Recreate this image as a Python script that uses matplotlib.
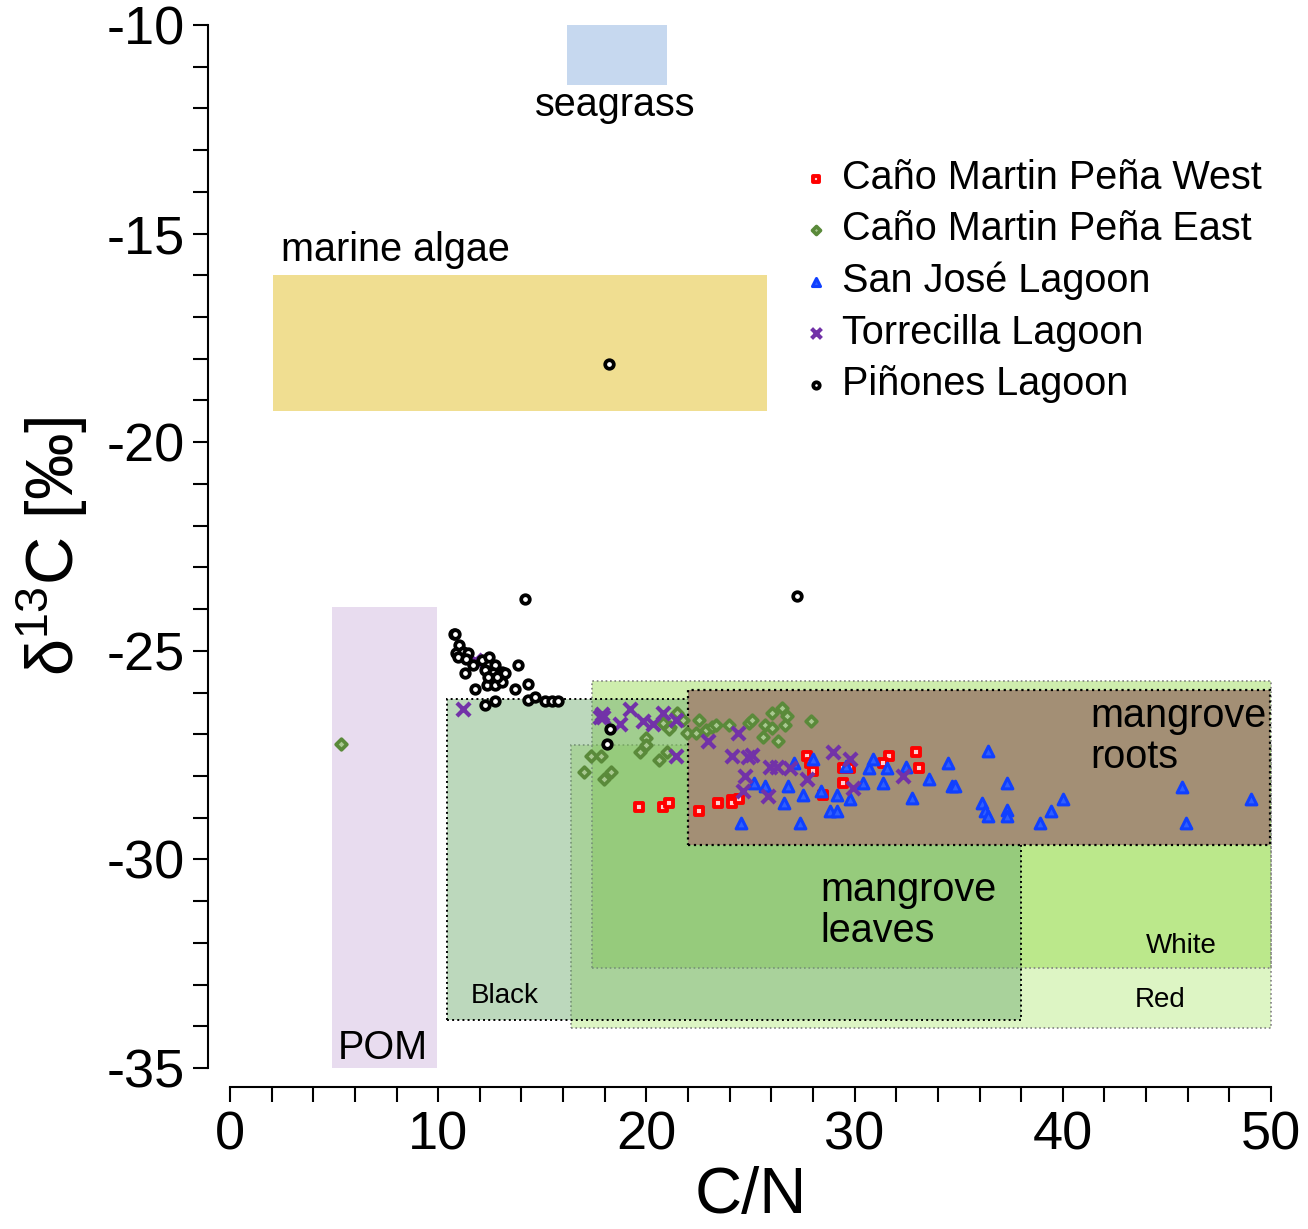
import numpy as np
import matplotlib
matplotlib.use("Agg")
import matplotlib.pyplot as plt
from matplotlib.patches import Rectangle

plt.rcParams['font.family'] = ['Liberation Sans', 'DejaVu Sans']
plt.rcParams['mathtext.fontset'] = 'custom'
plt.rcParams['mathtext.rm'] = 'Liberation Sans'

# --- data (C/N, d13C) ---
west_cn = [19.64, 20.8, 21.09, 22.53, 23.44, 24.11, 24.11, 24.45, 27.71, 27.85, 28.0, 28.48,
           29.44, 29.78, 29.44, 31.65, 31.36, 32.95, 33.09]
west_d13c = [-28.74, -28.74, -28.65, -28.84, -28.65, -28.58, -28.65, -28.55, -27.52, -27.7, -27.88, -28.46,
             -27.81, -27.81, -28.17, -27.52, -27.69, -27.43, -27.81]

east_cn = [5.33, 17.0, 17.34, 17.82, 17.96, 18.3, 19.69, 20.0, 20.0, 20.6, 20.99, 20.8, 21.13,
           21.47, 21.76, 21.95, 22.38, 22.53, 22.86, 23.15, 23.34, 23.97, 24.93, 25.07, 25.6,
           25.7, 26.03, 26.03, 26.51, 26.75, 26.66, 26.32, 27.9, 21.09]
east_d13c = [-27.23, -27.9, -27.52, -27.52, -28.07, -27.9, -27.43, -27.1, -27.25, -27.62, -27.43, -26.73, -26.83,
             -26.49, -26.66, -26.97, -26.97, -26.66, -26.9, -26.83, -26.78, -26.78, -26.73, -26.66, -27.07,
             -26.78, -26.85, -26.49, -26.37, -26.56, -26.78, -27.16, -26.68, -26.87]

sanjose_cn = [24.53, 25.18, 25.68, 26.6, 26.79, 27.08, 27.39, 27.52, 28.0, 28.37, 28.81, 29.14,
              29.14, 29.6, 29.79, 30.39, 30.71, 30.89, 31.35, 31.54, 32.46, 32.77, 33.56, 34.49,
              34.67, 34.82, 36.1, 36.24, 36.42, 36.42, 37.34, 37.34, 37.34, 38.9, 39.42, 40.01,
              45.72, 45.9, 49.03]
sanjose_d13c = [-29.13, -28.16, -28.24, -28.65, -28.24, -27.68, -29.13, -28.45, -27.6, -28.37, -28.85, -28.85,
                -28.45, -27.75, -28.55, -28.16, -27.8, -27.6, -28.16, -27.8, -27.78, -28.53, -28.07, -27.68,
                -28.24, -28.24, -28.65, -28.85, -28.97, -27.4, -28.16, -28.81, -28.97, -29.13, -28.83, -28.55,
                -28.26, -29.13, -28.55]

torre_cn = [11.19, 11.77, 17.77, 17.9, 17.85, 19.2, 18.73, 19.84, 20.32, 20.8, 21.42, 21.42, 24.4,
            22.96, 24.1, 24.88, 25.07, 24.74, 24.64, 25.94, 26.27, 26.9, 27.7, 25.84, 28.96,
            29.78, 29.92, 32.32]
torre_d13c = [-26.39, -25.22, -26.59, -26.59, -26.52, -26.4, -26.75, -26.68, -26.75, -26.49, -26.66, -27.52, -26.97,
              -27.16, -27.52, -27.55, -27.5, -28.0, -28.36, -27.79, -27.79, -27.81, -28.07, -28.48, -27.43,
              -27.6, -28.29, -28.0]

pinones_cn = [18.2, 14.17, 27.23, 18.25, 18.1, 10.76, 10.8, 11.0, 10.85, 11.19, 11.43, 10.95, 11.33,
              11.67, 11.29, 12.1, 12.44, 12.25, 12.73, 12.63, 13.06, 13.21, 13.83, 12.49, 12.34,
              12.73, 13.06, 12.82, 12.39, 11.77, 13.69, 14.31, 12.25, 12.73, 14.31, 14.65, 15.13,
              15.47, 15.75]
pinones_d13c = [-18.13, -23.76, -23.69, -26.87, -27.23, -24.6, -24.6, -24.86, -25.05, -25.03, -25.05, -25.15, -25.2,
                -25.34, -25.53, -25.22, -25.15, -25.46, -25.34, -25.53, -25.51, -25.53, -25.34, -25.7, -25.82,
                -25.82, -25.75, -25.63, -25.63, -25.92, -25.92, -25.8, -26.3, -26.2, -26.18, -26.1, -26.2,
                -26.2, -26.2]

# source boxes: (cn_min, cn_max, d13c_min, d13c_max)
seagrass_box = (16.2, 21.0, -11.45, -10.0)
algae_box = (2.05, 25.8, -19.25, -16.0)
pom_box = (4.9, 9.95, -35.0, -23.95)
red_box = (16.4, 50.0, -34.05, -27.25)
white_box = (17.4, 50.0, -32.6, -25.72)
black_box = (10.4, 38.0, -33.85, -26.15)
roots_box = (22.0, 49.95, -29.65, -25.95)

fig = plt.figure(figsize=(13.08, 12.29), dpi=100)
ax = fig.add_axes([230/1308, 1-1068/1229, (1271-230)/1308, (1068-25)/1229])
ax.set_xlim(0, 50)
ax.set_ylim(-35, -10)


def box(b, **kw):
    r = Rectangle((b[0], b[2]), b[1]-b[0], b[3]-b[2], clip_on=False, **kw)
    ax.add_patch(r)
    return r


box(seagrass_box, facecolor='#c6d8ef', edgecolor='none', zorder=1)
box(algae_box, facecolor='#f0de91', edgecolor='none', zorder=1)
box(pom_box, facecolor='#e8dcef', edgecolor='none', zorder=1)
box(red_box, facecolor=(210/255, 242/255, 176/255, 0.75), edgecolor='#808080', linestyle=':', linewidth=1.2, zorder=2)
box(white_box, facecolor=(140/255, 214/255, 60/255, 0.42), edgecolor='#808080', linestyle=':', linewidth=1.2, zorder=3)
box(black_box, facecolor=(107/255, 169/255, 107/255, 0.45), edgecolor='black', linestyle=':', linewidth=1.4, zorder=4)
box(roots_box, facecolor='#a38f75', edgecolor='black', linestyle=':', linewidth=1.6, zorder=5)

fs = 28.5
ax.text(18.49, -11.92, 'seagrass', fontsize=fs, ha='center', va='center', zorder=6)
ax.text(2.45, -15.39, 'marine algae', fontsize=fs, ha='left', va='center', zorder=6)
ax.text(7.35, -34.52, 'POM', fontsize=fs, ha='center', va='center', zorder=6)
ax.text(11.58, -33.27, 'Black', fontsize=20, ha='left', va='center', zorder=6)
ax.text(45.68, -32.08, 'White', fontsize=20, ha='center', va='center', zorder=6)
ax.text(44.67, -33.37, 'Red', fontsize=20, ha='center', va='center', zorder=6)
ax.text(41.3, -27.05, 'mangrove\nroots', fontsize=fs, ha='left', va='center', linespacing=1.1, zorder=6)
ax.text(28.34, -31.22, 'mangrove\nleaves', fontsize=fs, ha='left', va='center', linespacing=1.1, zorder=6)

ax.scatter(west_cn, west_d13c, marker='s', s=36, facecolor='#ffd0d0', edgecolor='#ff0000',
           linewidth=2.8, zorder=7, label='Caño Martin Peña West')
ax.scatter(east_cn, east_d13c, marker='D', s=30, facecolor='#a8c890', edgecolor='#5a8a3a',
           linewidth=2.6, zorder=8, label='Caño Martin Peña East')
ax.scatter(sanjose_cn, sanjose_d13c, marker='^', s=60, facecolor='#3060ff', edgecolor='#1040ff',
           linewidth=2.2, zorder=9, label='San José Lagoon')
ax.scatter(torre_cn, torre_d13c, marker='x', s=90, color='#7232a8', linewidth=3.0, zorder=10,
           label='Torrecilla Lagoon')
ax.scatter(pinones_cn, pinones_d13c, marker='o', s=38, facecolor='white', edgecolor='black',
           linewidth=2.7, zorder=11, label='Piñones Lagoon')

leg = ax.legend(loc='upper left', bbox_to_anchor=(800/1308, 1-159/1229), bbox_transform=fig.transFigure,
                frameon=False, fontsize=fs, borderpad=0, borderaxespad=0, handlelength=0.8,
                handletextpad=0.25, labelspacing=0.34, markerscale=0.75, scatterpoints=1)

for side in ['top', 'right']:
    ax.spines[side].set_visible(False)
ax.spines['left'].set_position(('outward', 15.8))
ax.spines['bottom'].set_position(('outward', 13.7))
ax.spines['left'].set_linewidth(1.5)
ax.spines['bottom'].set_linewidth(1.5)

ax.set_xticks(np.arange(0, 51, 10))
ax.set_xticks(np.arange(0, 51, 2), minor=True)
ax.set_yticks(np.arange(-35, -9, 5))
ax.set_yticks(np.arange(-35, -9, 1), minor=True)
ax.tick_params(which='both', direction='out', length=10.8, width=1.5)
ax.tick_params(axis='both', which='major', labelsize=39, pad=6)
ax.set_yticklabels(['-35', '-30', '-25', '-20', '-15', '-10'])

ax.set_xlabel('C/N', fontsize=47, labelpad=4)
ax.set_ylabel(r'$\mathregular{δ^{13}C}$ [‰]', fontsize=48, labelpad=12)

fig.savefig('out.png', dpi=100)
